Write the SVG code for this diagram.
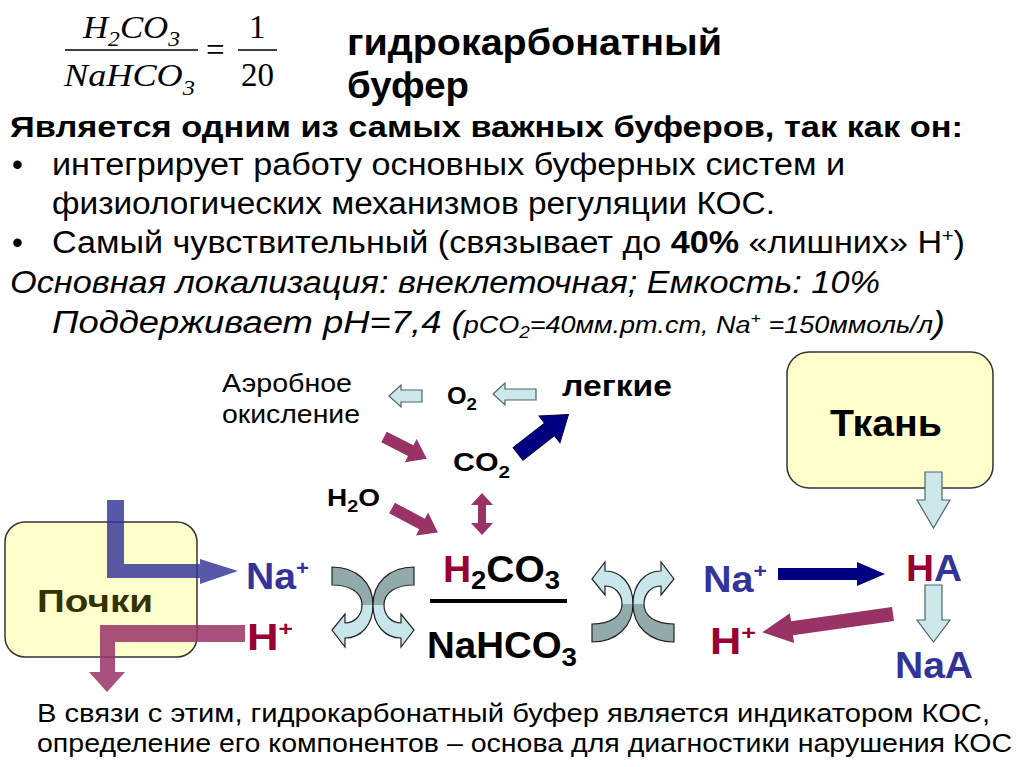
<svg xmlns="http://www.w3.org/2000/svg" width="1024" height="767" viewBox="0 0 1024 767">
<defs>
<style>
.s{font-family:"Liberation Sans",Arial,sans-serif}
.b{font-weight:bold}
.i{font-style:italic}
.f{font-family:"Liberation Serif","Times New Roman",serif;font-style:italic;font-size:31px}
.fr{font-family:"Liberation Serif","Times New Roman",serif;font-size:33px}
.box{fill:#ffffcc;stroke:#333333;stroke-width:1.5}
.mag{fill:#993366}
.lc{fill:#cce8ea;stroke:#4d6666;stroke-width:1.2}
.cx{stroke:#222;stroke-width:1.2}
</style>
<linearGradient id="gx" gradientUnits="userSpaceOnUse" x1="0" y1="-40" x2="0" y2="40">
<stop offset="0" stop-color="#93aaac"/>
<stop offset="0.5" stop-color="#93aaac"/>
<stop offset="0.5" stop-color="#c8e6ea"/>
<stop offset="1" stop-color="#c8e6ea"/>
</linearGradient>
<path id="band" d="M-41,-38 C-16,-38 0,-22 0,0 C0,20 -12,33 -28,33 L-28,42 L-41,25 L-28,9 L-28,18 C-18,18 -11,10 -11,0 C-11,-12 -22,-20 -41,-20 Z" fill="url(#gx)" class="cx"/>
</defs>
<rect width="1024" height="767" fill="#ffffff"/>

<g id="formula">
<text class="f" x="83" y="38" textLength="97" lengthAdjust="spacingAndGlyphs">H<tspan font-size="21" dy="8">2</tspan><tspan dy="-8">CO</tspan><tspan font-size="21" dy="8">3</tspan></text>
<line x1="65" y1="50" x2="198" y2="50" stroke="#000" stroke-width="1.5"/>
<text class="f" x="64" y="86" textLength="131" lengthAdjust="spacingAndGlyphs">NaHCO<tspan font-size="21" dy="9">3</tspan></text>
<text class="fr" x="206" y="61">=</text>
<text class="fr" x="249" y="38">1</text>
<line x1="238" y1="50" x2="277" y2="50" stroke="#000" stroke-width="1.5"/>
<text class="fr" x="241" y="86">20</text>
</g>

<g id="title" class="s b" font-size="37">
<text x="347" y="55" textLength="375" lengthAdjust="spacingAndGlyphs">гидрокарбонатный</text>
<text x="347" y="98" textLength="122" lengthAdjust="spacingAndGlyphs">буфер</text>
</g>

<g id="body" class="s" font-size="31">
<text class="b" x="10" y="137" font-size="29" textLength="953" lengthAdjust="spacingAndGlyphs">Является одним из самых важных буферов, так как он:</text>
<text x="12" y="175">•</text>
<text x="52" y="175" textLength="793" lengthAdjust="spacingAndGlyphs">интегрирует работу основных буферных систем и</text>
<text x="52" y="214" textLength="723" lengthAdjust="spacingAndGlyphs">физиологических механизмов регуляции КОС.</text>
<text x="12" y="253">•</text>
<text x="52" y="253" textLength="913" lengthAdjust="spacingAndGlyphs">Самый чувствительный (связывает до <tspan class="b">40%</tspan> «лишних» H<tspan font-size="18" dy="-11">+</tspan><tspan dy="11">)</tspan></text>
<text class="i" x="10" y="293" textLength="870" lengthAdjust="spacingAndGlyphs">Основная локализация: внеклеточная; Емкость: 10%</text>
<text class="i" x="52" y="333" textLength="893" lengthAdjust="spacingAndGlyphs">Поддерживает pH=7,4 (<tspan font-size="23">pCO</tspan><tspan font-size="16" dy="5">2</tspan><tspan font-size="23" dy="-5">=40мм.pm.cm, Na</tspan><tspan font-size="15" dy="-10">+</tspan><tspan font-size="23" dy="10"> =150ммоль/л</tspan>)</text>
</g>

<g id="node-aerob" class="s" font-size="26">
<text x="222" y="392" textLength="130" lengthAdjust="spacingAndGlyphs">Аэробное</text>
<text x="222" y="423" textLength="138" lengthAdjust="spacingAndGlyphs">окисление</text>
</g>
<g id="node-o2" class="s b" font-size="23">
<text x="447" y="404" textLength="30" lengthAdjust="spacingAndGlyphs">O<tspan font-size="17" dy="6">2</tspan></text>
</g>
<g id="node-lungs" class="s b" font-size="29">
<text x="562" y="396" textLength="110" lengthAdjust="spacingAndGlyphs">легкие</text>
</g>
<g id="node-co2" class="s b" font-size="25">
<text x="453" y="471" textLength="57" lengthAdjust="spacingAndGlyphs">CO<tspan font-size="17" dy="7">2</tspan></text>
</g>
<g id="node-h2o" class="s b" font-size="24">
<text x="327" y="506" textLength="53" lengthAdjust="spacingAndGlyphs">H<tspan font-size="17" dy="6">2</tspan><tspan dy="-6">O</tspan></text>
</g>

<g id="node-pochki">
<rect class="box" x="5" y="522" width="192" height="135" rx="20"/>
<text class="s b" x="37" y="612" font-size="32" fill="#333300" textLength="116" lengthAdjust="spacingAndGlyphs">Почки</text>
</g>

<g id="node-tkan">
<rect class="box" x="787" y="352" width="206" height="136" rx="22"/>
<text class="s b" x="830" y="436" font-size="37" fill="#000" textLength="112" lengthAdjust="spacingAndGlyphs">Ткань</text>
</g>

<g id="node-buffer" class="s b">
<text x="443" y="582" font-size="37" textLength="117" lengthAdjust="spacingAndGlyphs"><tspan fill="#990033">H</tspan><tspan font-size="26" dy="7">2</tspan><tspan dy="-7">CO</tspan><tspan font-size="26" dy="7">3</tspan></text>
<line x1="430" y1="601" x2="567" y2="601" stroke="#000" stroke-width="4"/>
<text x="427" y="658" font-size="36" textLength="150" lengthAdjust="spacingAndGlyphs">NaHCO<tspan font-size="26" dy="8">3</tspan></text>
</g>

<g id="node-na-left" class="s b" font-size="37" fill="#333399">
<text x="246" y="589" textLength="63" lengthAdjust="spacingAndGlyphs">Na<tspan font-size="21" dy="-14">+</tspan></text>
</g>
<g id="node-h-left" class="s b" font-size="37" fill="#990033">
<text x="247" y="650" textLength="46" lengthAdjust="spacingAndGlyphs">H<tspan font-size="21" dy="-14">+</tspan></text>
</g>
<g id="node-na-right" class="s b" font-size="36" fill="#333399">
<text x="703" y="592" textLength="64" lengthAdjust="spacingAndGlyphs">Na<tspan font-size="21" dy="-14">+</tspan></text>
</g>
<g id="node-h-right" class="s b" font-size="36" fill="#990033">
<text x="710" y="654" textLength="46" lengthAdjust="spacingAndGlyphs">H<tspan font-size="21" dy="-14">+</tspan></text>
</g>
<g id="node-ha" class="s b" font-size="36">
<text x="906" y="581" textLength="56" lengthAdjust="spacingAndGlyphs"><tspan fill="#990033">H</tspan><tspan fill="#333399">A</tspan></text>
</g>
<g id="node-naa" class="s b" font-size="36" fill="#333399">
<text x="895" y="678" textLength="78" lengthAdjust="spacingAndGlyphs">NaA</text>
</g>

<g id="connectors">
<polygon class="lc" points="389,396 401,385 401,390 422,390 422,402 401,402 401,407"/>
<polygon class="lc" points="493,394 505,383 505,389 536,389 536,400 505,400 505,405"/>
<polygon class="mag" transform="translate(384,437) rotate(27)" points="0,-6 30,-6 30,-13 48,0 30,13 30,6 0,6"/>
<polygon class="mag" transform="translate(392,508) rotate(28)" points="0,-6 34,-6 34,-13 52,0 34,13 34,6 0,6"/>
<polygon fill="#000080" stroke="#000040" stroke-width="1" transform="translate(518,454) rotate(-38)" points="0,-8 40,-8 40,-17 64,0 40,17 40,8 0,8"/>
<polygon class="mag" points="482,493 493,505 486,505 486,523 493,523 482,535 471,523 478,523 478,505 471,505"/>
<polygon fill="#333399" fill-opacity="0.82" points="107,500 124,500 124,564 200,564 200,559 238,571 200,584 200,578 107,578"/>
<polygon fill="#993366" fill-opacity="0.85" points="245,625 245,642 115,642 115,672 125,672 107,692 89,672 100,672 100,625"/>
<g transform="translate(373,605)">
<use href="#band"/>
<use href="#band" transform="scale(-1,1)"/>
</g>
<g transform="translate(633,604) scale(1,-1)">
<use href="#band"/>
<use href="#band" transform="scale(-1,1)"/>
</g>
<polygon fill="#000080" points="778,568 857,568 857,562 885,574 857,586 857,580 778,580"/>
<polygon class="mag" transform="translate(893,614) rotate(172)" points="0,-7 102,-7 102,-15 132,0 102,15 102,7 0,7"/>
<polygon class="lc" points="925,472 942,472 942,500 950,500 933.5,528 917,500 925,500"/>
<polygon class="lc" points="925,585 942,585 942,620 950,620 933.5,642 917,620 925,620"/>
</g>

<g id="footer" class="s" font-size="25">
<text x="37" y="722" textLength="953" lengthAdjust="spacingAndGlyphs">В связи с этим, гидрокарбонатный буфер является индикатором КОС,</text>
<text x="37" y="752" textLength="975" lengthAdjust="spacingAndGlyphs">определение его компонентов – основа для диагностики нарушения КОС</text>
</g>
</svg>
